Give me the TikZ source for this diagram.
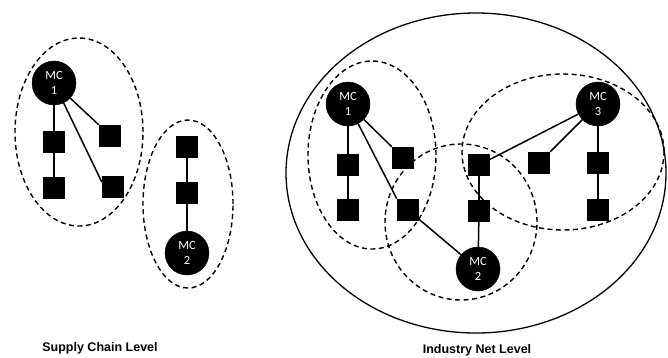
\documentclass[tikz,border=0pt]{standalone}
\usepackage{fontspec}
\setmainfont{Liberation Sans}
\newfontfamily\mcfont{Carlito}
\usepackage{tikz}

\begin{document}
\begin{tikzpicture}[x=1pt,y=-1pt,
  mc/.style={circle,fill=black,draw=black,minimum size=44pt,inner sep=0pt,
    text=white,align=center,font=\mcfont\fontsize{12.5}{15}\selectfont},
  box/.style={rectangle,fill=black,minimum size=22pt,inner sep=0pt},
  group/.style={dash pattern=on 5pt off 3.5pt,line width=1.4pt},
  link/.style={line width=1.5pt},
  level/.style={font=\bfseries\fontsize{12.5}{15}\selectfont}]
\useasboundingbox (0,0) rectangle (668,357);
% supply chain level
\draw [group] (79,132) ellipse [x radius=64pt,y radius=94pt];
\draw [group] (188,204) ellipse [x radius=45pt,y radius=84pt];
\node [mc] (a1) at (54,83) {MC\\1};
\node [box] (a11) at (54,142) {};
\node [box] (a12) at (54,188) {};
\node [box] (a13) at (110,136) {};
\node [box] (a14) at (113,187) {};
\node [mc] (a2) at (187,253) {MC\\2};
\node [box] (a21) at (187,147) {};
\node [box] (a22) at (187,193) {};
\draw [link] (a1) -- (a11);
\draw [link] (a11) -- (a12);
\draw [link] (a1) -- (a13.north west);
\draw [link] (a1) -- ([yshift=5pt]a14.west);
\draw [link] (a21) -- (a22);
\draw [link] (a22) -- (a2);
\node [level] (scl) at (100,348) {Supply Chain Level};
% industry net level
\draw [line width=1.3pt] (476,173) ellipse [x radius=190pt,y radius=160pt];
\draw [group] (372,155) ellipse [x radius=64pt,y radius=94pt];
\draw [group] (461,222) ellipse [x radius=76pt,y radius=78pt];
\draw [group] (563,152) ellipse [x radius=101pt,y radius=78pt];
\node [mc] (b1) at (348,104) {MC\\1};
\node [box] (b11) at (348,165) {};
\node [box] (b12) at (348,210) {};
\node [box] (b13) at (403,158) {};
\node [box] (b14) at (408,210) {};
\node [mc] (b2) at (478,269) {MC\\2};
\node [box] (b21) at (479,165) {};
\node [box] (b22) at (479,211) {};
\node [mc] (b3) at (598,104) {MC\\3};
\node [box] (b31) at (539,163) {};
\node [box] (b32) at (598,163) {};
\node [box] (b33) at (598,210) {};
\draw [link] (b1) -- (b11);
\draw [link] (b11) -- (b12);
\draw [link] (b1) -- (b13.north west);
\draw [link] (b1) -- (b14.north west);
\draw [link] (b14) -- (b2);
\draw [link] (b2) -- (b22);
\draw [link] (b22) -- (b21);
\draw [link] (b3) -- (b21);
\draw [link] (b3) -- (b31);
\draw [link] (b3) -- (b32);
\draw [link] (b32) -- (b33);
\node [level] (inl) at (477,350) {Industry Net Level};
\end{tikzpicture}
\end{document}
